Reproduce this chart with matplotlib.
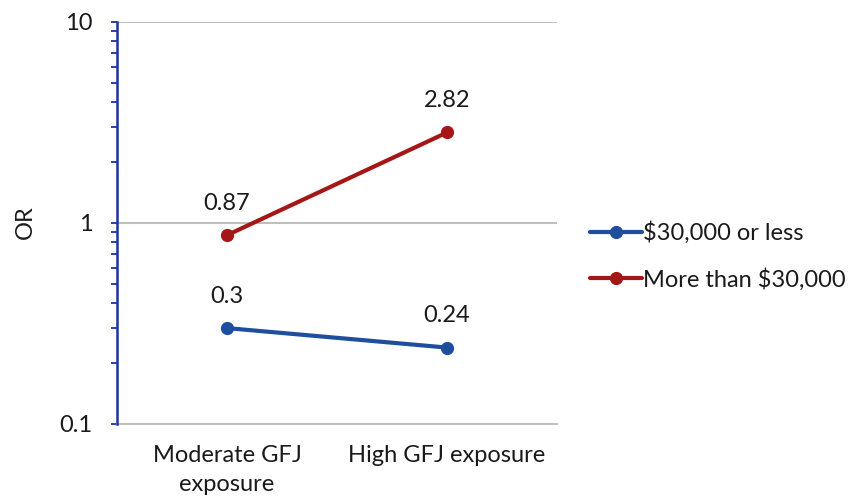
import matplotlib
matplotlib.use("Agg")
import matplotlib.pyplot as plt
from matplotlib.ticker import LogLocator, NullFormatter, FixedLocator, FixedFormatter

categories = ["Moderate GFJ\nexposure", "High GFJ exposure"]
series_names = ["$30,000 or less", "More than $30,000"]
low_income = [0.3, 0.24]
high_income = [0.87, 2.82]
low_labels = ["0.3", "0.24"]
high_labels = ["0.87", "2.82"]
y_ticks = [0.1, 1, 10]
y_tick_labels = ["0.1", "1", "10"]

plt.rcParams['font.family'] = ['Lato', 'DejaVu Sans']
FS = 17

fig = plt.figure(figsize=(8.54, 5.0), dpi=100)
ax = fig.add_axes([117/854, 1-424/500, (557-117)/854, (424-22)/500])

blue = '#1F4E9E'
red = '#A51616'
spine_blue = '#1A35A0'
grid_gray = '#BFBFBF'
txt = '#1a1a1a'

x = [0.5, 1.5]
l1, = ax.plot(x, low_income, color=blue, lw=3, marker='o', ms=8.5, label=series_names[0],
              solid_capstyle='round', zorder=3)
l2, = ax.plot(x, high_income, color=red, lw=3, marker='o', ms=8.5, label=series_names[1],
              solid_capstyle='round', zorder=3)

for xi, v, t in zip(x, low_income, low_labels):
    ax.annotate(t, (xi, v), xytext=(0, 23), textcoords='offset points', ha='center', va='center',
                fontsize=FS, color=txt)
for xi, v, t in zip(x, high_income, high_labels):
    ax.annotate(t, (xi, v), xytext=(0, 23), textcoords='offset points', ha='center', va='center',
                fontsize=FS, color=txt)

ax.set_yscale('log')
ax.set_ylim(0.1, 10)
ax.set_xlim(0, 2)
ax.yaxis.set_major_locator(FixedLocator(y_ticks))
ax.yaxis.set_major_formatter(FixedFormatter(y_tick_labels))
ax.yaxis.set_minor_locator(LogLocator(base=10, subs=range(2, 10)))
ax.yaxis.set_minor_formatter(NullFormatter())
ax.set_xticks(x)
ax.set_xticklabels(categories, fontsize=FS, color=txt, linespacing=1.5)
ax.tick_params(axis='x', length=0, pad=15)
ax.tick_params(axis='y', which='both', direction='out', length=4.5, width=1.3, color=spine_blue,
               labelsize=FS, labelcolor=txt, pad=13)

for yv in y_ticks:
    ax.axhline(yv, color=grid_gray, lw=1.5, zorder=1)

ax.spines['top'].set_visible(False)
ax.spines['right'].set_visible(False)
ax.spines['bottom'].set_color(grid_gray)
ax.spines['bottom'].set_linewidth(1.5)
ax.spines['left'].set_color(spine_blue)
ax.spines['left'].set_linewidth(1.8)
ax.spines['left'].set_zorder(4)

fig.text(25/854, 1-222/500, "OR", rotation=90, ha='center', va='center', fontsize=FS, color=txt)

leg = fig.legend(handles=[l1, l2], loc='center left', bbox_to_anchor=(590/854, 1-256/500),
                 frameon=False, fontsize=FS, handlelength=2.2, handletextpad=0.05,
                 labelspacing=1.0, borderpad=0, borderaxespad=0)
for t in leg.get_texts():
    t.set_color(txt)

fig.savefig("out.png", dpi=100)
